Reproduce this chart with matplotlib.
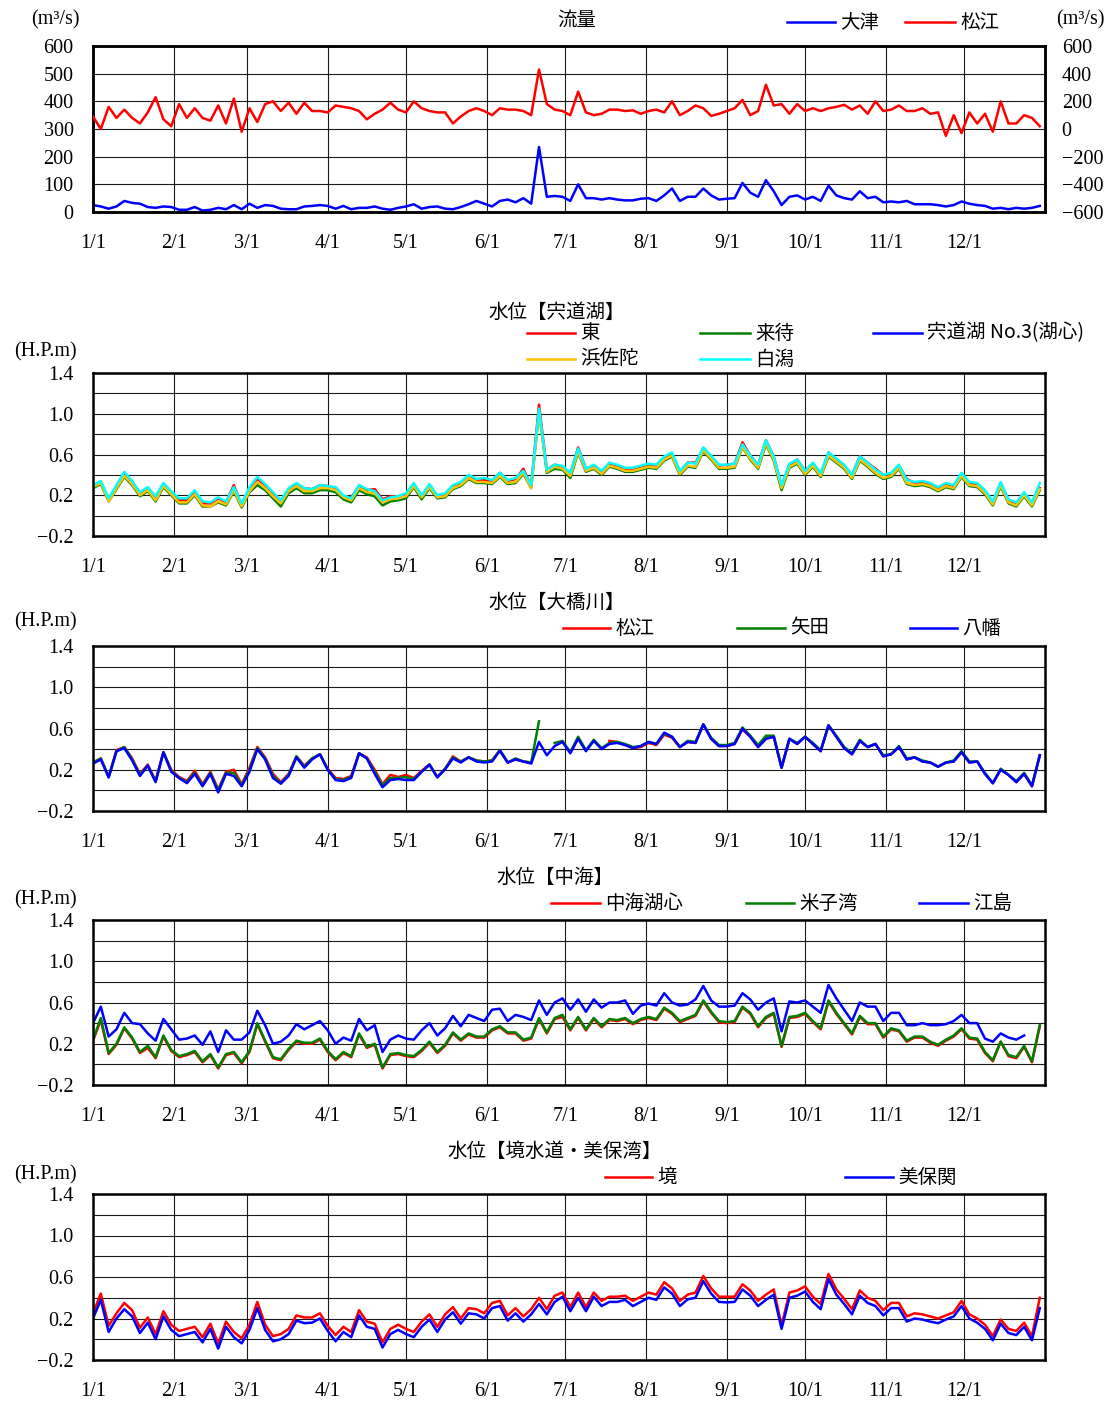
import numpy as np
import matplotlib
matplotlib.use('Agg')
import matplotlib.pyplot as plt
from matplotlib.lines import Line2D

plt.rcParams['font.family'] = ['Liberation Serif', 'Noto Sans CJK JP']
plt.rcParams['axes.unicode_minus'] = True

nan = np.nan
W, H = 1118, 1403

# sample days (every 3 days, day 0 = 1/1)
days = np.arange(0, 364, 3)
month_starts = [0, 31, 59, 90, 120, 151, 181, 212, 243, 273, 304, 334]
month_labels = ['1/1', '2/1', '3/1', '4/1', '5/1', '6/1', '7/1', '8/1', '9/1', '10/1', '11/1', '12/1']

# ---------------- 流量 (m3/s) ----------------
flow_otsu = [25, 20, 12, 20, 40, 33, 30, 18, 15, 20,
             18, 8, 8, 18, 5, 8, 15, 10, 25, 10,
             30, 15, 25, 22, 12, 10, 10, 20, 22, 25,
             22, 12, 22, 10, 15, 15, 20, 12, 8, 15,
             20, 28, 12, 18, 20, 12, 10, 18, 28, 40,
             30, 20, 40, 45, 35, 50, 30, 235, 55, 58,
             55, 40, 100, 50, 50, 45, 50, 45, 42, 42,
             48, 50, 40, 60, 85, 40, 55, 55, 85, 60,
             45, 48, 50, 105, 70, 55, 115, 75, 25, 55,
             60, 45, 55, 40, 95, 60, 50, 45, 75, 50,
             55, 35, 38, 35, 40, 28, 28, 28, 25, 20,
             25, 38, 30, 25, 22, 12, 15, 10, 15, 12, 15, 22]
flow_matsue = [90, 0, 160, 80, 140, 80, 40, 120, 230, 70,
               20, 180, 80, 150, 80, 60, 170, 40, 220, -20,
               150, 50, 180, 200, 130, 190, 110, 190, 130, 130,
               120, 170, 160, 150, 130, 70, 110, 140, 190, 140,
               120, 200, 150, 130, 120, 120, 40, 90, 130, 150,
               130, 100, 150, 140, 140, 130, 100, 430, 180, 140,
               130, 100, 270, 120, 100, 110, 140, 140, 130, 135,
               110, 130, 140, 120, 200, 100, 130, 170, 150, 95,
               110, 130, 150, 210, 100, 130, 320, 170, 180, 110,
               180, 130, 150, 130, 150, 160, 175, 140, 170, 110,
               200, 130, 140, 170, 130, 130, 150, 110, 120, -50,
               100, -30, 120, 40, 110, -20, 200, 40, 40, 100, 80, 20]

# ---------------- 水位【宍道湖】 ----------------
shinji_higashi = [0.29, 0.33, 0.15, 0.28, 0.41, 0.32, 0.21, 0.27, 0.17, 0.31,
                  0.22, 0.15, 0.15, 0.23, 0.12, 0.12, 0.17, 0.13, 0.30, 0.10,
                  0.27, 0.36, 0.30, 0.22, 0.14, 0.26, 0.31, 0.27, 0.26, 0.30,
                  0.29, 0.27, 0.19, 0.18, 0.29, 0.25, 0.26, 0.16, 0.19, 0.19,
                  0.21, 0.31, 0.19, 0.29, 0.19, 0.21, 0.28, 0.31, 0.38, 0.35,
                  0.35, 0.34, 0.42, 0.34, 0.36, 0.46, 0.29, 1.09, 0.45, 0.50,
                  0.48, 0.41, 0.67, 0.46, 0.49, 0.43, 0.50, 0.48, 0.45, 0.46,
                  0.48, 0.50, 0.49, 0.57, 0.61, 0.43, 0.52, 0.52, 0.66, 0.58,
                  0.49, 0.50, 0.51, 0.72, 0.59, 0.50, 0.74, 0.58, 0.29, 0.50,
                  0.55, 0.44, 0.51, 0.41, 0.62, 0.55, 0.49, 0.40, 0.58, 0.52,
                  0.46, 0.40, 0.41, 0.49, 0.36, 0.32, 0.33, 0.31, 0.27, 0.31,
                  0.29, 0.41, 0.31, 0.31, 0.24, 0.12, 0.31, 0.14, 0.12, 0.21, 0.12, 0.27]
shinji_kimachi = [0.27, 0.31, 0.14, 0.26, 0.38, 0.30, 0.19, 0.24, 0.14, 0.28,
                  0.20, 0.12, 0.12, 0.20, 0.09, 0.09, 0.13, 0.10, 0.24, 0.08,
                  0.23, 0.30, 0.25, 0.17, 0.09, 0.22, 0.27, 0.22, 0.22, 0.25,
                  0.25, 0.23, 0.16, 0.13, 0.25, 0.21, 0.19, 0.10, 0.14, 0.15,
                  0.17, 0.28, 0.16, 0.27, 0.17, 0.18, 0.26, 0.29, 0.36, 0.32,
                  0.32, 0.31, 0.38, 0.31, 0.32, 0.41, 0.27, 1.03, 0.42, 0.46,
                  0.45, 0.37, 0.62, 0.43, 0.46, 0.40, 0.48, 0.46, 0.43, 0.43,
                  0.45, 0.47, 0.46, 0.54, 0.58, 0.40, 0.48, 0.47, 0.63, 0.55,
                  0.46, 0.46, 0.47, 0.67, 0.55, 0.46, 0.70, 0.54, 0.25, 0.47,
                  0.51, 0.40, 0.48, 0.38, 0.58, 0.52, 0.46, 0.36, 0.54, 0.48,
                  0.41, 0.36, 0.38, 0.46, 0.31, 0.29, 0.30, 0.28, 0.24, 0.28,
                  0.26, 0.38, 0.29, 0.28, 0.21, 0.10, 0.29, 0.12, 0.09, 0.19, 0.09, 0.25]
shinji_no3 = []   # 宍道湖 No.3(湖心): no data plotted
shinji_hamasada = [0.28, 0.32, 0.14, 0.27, 0.39, 0.31, 0.20, 0.25, 0.15, 0.29,
                   0.21, 0.13, 0.13, 0.21, 0.10, 0.09, 0.14, 0.11, 0.25, 0.09,
                   0.24, 0.33, 0.27, 0.19, 0.12, 0.24, 0.29, 0.24, 0.24, 0.27,
                   0.27, 0.25, 0.18, 0.15, 0.27, 0.23, 0.22, 0.13, 0.16, 0.17,
                   0.19, 0.29, 0.18, 0.28, 0.18, 0.19, 0.27, 0.30, 0.37, 0.33,
                   0.33, 0.32, 0.39, 0.32, 0.33, 0.42, 0.27, 1.02, 0.43, 0.48,
                   0.46, 0.39, 0.63, 0.44, 0.47, 0.41, 0.49, 0.47, 0.44, 0.44,
                   0.46, 0.48, 0.47, 0.55, 0.59, 0.41, 0.49, 0.48, 0.64, 0.56,
                   0.47, 0.47, 0.48, 0.67, 0.56, 0.47, 0.71, 0.55, 0.27, 0.48,
                   0.52, 0.41, 0.49, 0.39, 0.59, 0.53, 0.47, 0.37, 0.55, 0.49,
                   0.42, 0.37, 0.39, 0.47, 0.32, 0.30, 0.31, 0.29, 0.25, 0.29,
                   0.27, 0.39, 0.30, 0.29, 0.22, 0.11, 0.30, 0.13, 0.10, 0.20, 0.10, 0.26]
shinji_shirakata = [0.30, 0.34, 0.17, 0.30, 0.43, 0.34, 0.23, 0.28, 0.19, 0.32,
                    0.24, 0.17, 0.17, 0.25, 0.14, 0.13, 0.18, 0.14, 0.28, 0.12,
                    0.28, 0.38, 0.31, 0.23, 0.15, 0.27, 0.32, 0.27, 0.26, 0.30,
                    0.29, 0.28, 0.20, 0.17, 0.30, 0.26, 0.24, 0.15, 0.18, 0.19,
                    0.22, 0.32, 0.20, 0.31, 0.20, 0.22, 0.30, 0.33, 0.40, 0.36,
                    0.37, 0.35, 0.42, 0.35, 0.37, 0.44, 0.30, 1.05, 0.45, 0.50,
                    0.49, 0.42, 0.66, 0.46, 0.50, 0.44, 0.52, 0.50, 0.47, 0.47,
                    0.49, 0.51, 0.50, 0.58, 0.62, 0.44, 0.52, 0.51, 0.67, 0.59,
                    0.50, 0.50, 0.51, 0.70, 0.59, 0.50, 0.74, 0.58, 0.30, 0.51,
                    0.55, 0.44, 0.52, 0.42, 0.62, 0.56, 0.50, 0.40, 0.58, 0.52,
                    0.45, 0.40, 0.42, 0.50, 0.35, 0.33, 0.34, 0.32, 0.28, 0.32,
                    0.30, 0.42, 0.33, 0.32, 0.25, 0.14, 0.33, 0.16, 0.13, 0.23, 0.13, 0.32]

# ---------------- 水位【大橋川】 ----------------
ohashi_matsue = [0.27, 0.31, 0.13, 0.39, 0.42, 0.31, 0.16, 0.25, 0.09, 0.37,
                 0.20, 0.13, 0.09, 0.19, 0.06, 0.18, 0.01, 0.18, 0.20, 0.06,
                 0.22, 0.42, 0.32, 0.16, 0.08, 0.16, 0.33, 0.24, 0.31, 0.35,
                 0.21, 0.12, 0.11, 0.14, 0.36, 0.32, 0.20, 0.06, 0.15, 0.13,
                 0.15, 0.12, 0.19, 0.25, 0.13, 0.21, 0.33, 0.28, 0.32, 0.29,
                 0.28, 0.29, 0.39, 0.27, 0.30, 0.28, 0.27, nan, nan, nan,
                 nan, nan, nan, nan, nan, nan, 0.48, 0.47, 0.44, 0.41,
                 0.42, 0.46, 0.44, 0.54, 0.51, 0.42, 0.47, 0.46, 0.64, 0.50,
                 0.43, 0.43, 0.45, 0.59, 0.52, 0.42, 0.50, 0.52, 0.22, 0.50,
                 0.45, 0.52, 0.45, 0.38, 0.63, 0.52, 0.41, 0.35, 0.48, 0.42,
                 0.45, 0.33, 0.35, 0.42, 0.30, 0.32, 0.28, 0.27, 0.23, 0.27,
                 0.28, 0.37, 0.27, 0.28, 0.16, 0.07, 0.20, 0.15, 0.08, 0.16, 0.04, 0.34]
ohashi_yada = [0.27, 0.31, 0.13, 0.38, 0.42, 0.30, 0.15, 0.24, 0.09, 0.37,
               0.19, 0.12, 0.08, 0.17, 0.05, 0.17, 0.00, 0.17, 0.17, 0.05,
               0.20, 0.41, 0.31, 0.14, 0.07, 0.15, 0.33, 0.23, 0.31, 0.35,
               0.20, 0.11, 0.10, 0.13, 0.36, 0.31, 0.18, 0.05, 0.12, 0.12,
               0.13, 0.11, 0.18, 0.25, 0.13, 0.21, 0.32, 0.28, 0.32, 0.29,
               0.28, 0.29, 0.39, 0.27, 0.31, 0.28, 0.27, 0.67, nan, 0.46,
               0.48, 0.37, 0.52, 0.39, 0.49, 0.41, 0.46, 0.47, 0.45, 0.42,
               0.43, 0.47, 0.45, 0.55, 0.52, 0.42, 0.48, 0.47, 0.64, 0.51,
               0.44, 0.44, 0.46, 0.61, 0.53, 0.44, 0.53, 0.53, 0.22, 0.50,
               0.46, 0.52, 0.46, 0.39, 0.63, 0.53, 0.42, 0.36, 0.49, 0.42,
               0.45, 0.34, 0.35, 0.43, 0.31, 0.32, 0.29, 0.27, 0.23, 0.27,
               0.29, 0.38, 0.28, 0.28, 0.17, 0.07, 0.21, 0.15, 0.09, 0.17, 0.05, 0.34]
ohashi_yawata = [0.26, 0.30, 0.125, 0.38, 0.41, 0.29, 0.14, 0.24, 0.08, 0.37,
                 0.18, 0.12, 0.07, 0.16, 0.04, 0.16, -0.02, 0.16, 0.14, 0.04,
                 0.18, 0.40, 0.30, 0.12, 0.065, 0.14, 0.32, 0.22, 0.30, 0.35,
                 0.20, 0.10, 0.09, 0.12, 0.36, 0.31, 0.16, 0.03, 0.10, 0.11,
                 0.10, 0.10, 0.18, 0.25, 0.125, 0.205, 0.31, 0.27, 0.32, 0.28,
                 0.27, 0.28, 0.385, 0.27, 0.30, 0.28, 0.26, 0.47, 0.34, 0.43,
                 0.47, 0.36, 0.50, 0.38, 0.48, 0.40, 0.45, 0.46, 0.44, 0.41,
                 0.43, 0.47, 0.45, 0.56, 0.52, 0.42, 0.47, 0.46, 0.64, 0.50,
                 0.43, 0.43, 0.45, 0.60, 0.52, 0.42, 0.50, 0.52, 0.22, 0.50,
                 0.45, 0.52, 0.45, 0.38, 0.63, 0.52, 0.41, 0.35, 0.48, 0.42,
                 0.45, 0.33, 0.35, 0.42, 0.30, 0.32, 0.28, 0.27, 0.23, 0.27,
                 0.28, 0.37, 0.27, 0.28, 0.16, 0.07, 0.20, 0.15, 0.08, 0.16, 0.04, 0.34]

# ---------------- 水位【中海】 ----------------
naka_center = [0.23, 0.43, 0.10, 0.19, 0.35, 0.25, 0.11, 0.16, 0.06, 0.27,
               0.13, 0.07, 0.09, 0.12, 0.02, 0.09, -0.04, 0.09, 0.11, 0.01,
               0.12, 0.39, 0.22, 0.06, 0.04, 0.14, 0.22, 0.20, 0.20, 0.24,
               0.12, 0.04, 0.11, 0.07, 0.29, 0.16, 0.19, -0.04, 0.09, 0.10,
               0.08, 0.07, 0.13, 0.21, 0.11, 0.18, 0.30, 0.23, 0.29, 0.26,
               0.26, 0.33, 0.36, 0.30, 0.30, 0.23, 0.25, 0.44, 0.30, 0.44,
               0.46, 0.33, 0.45, 0.33, 0.44, 0.36, 0.43, 0.42, 0.44, 0.39,
               0.43, 0.45, 0.43, 0.54, 0.49, 0.41, 0.44, 0.47, 0.61, 0.50,
               0.41, 0.40, 0.41, 0.55, 0.49, 0.36, 0.45, 0.49, 0.17, 0.45,
               0.46, 0.49, 0.41, 0.34, 0.61, 0.49, 0.39, 0.29, 0.46, 0.39,
               0.39, 0.26, 0.34, 0.32, 0.22, 0.26, 0.26, 0.21, 0.18, 0.23,
               0.27, 0.34, 0.25, 0.24, 0.11, 0.03, 0.22, 0.08, 0.06, 0.17, 0.02, 0.37]
naka_yonago = [0.24, 0.45, 0.11, 0.20, 0.36, 0.26, 0.12, 0.18, 0.07, 0.28,
               0.14, 0.08, 0.10, 0.13, 0.03, 0.10, -0.03, 0.10, 0.12, 0.02,
               0.13, 0.40, 0.23, 0.07, 0.05, 0.15, 0.23, 0.21, 0.21, 0.25,
               0.13, 0.05, 0.12, 0.08, 0.30, 0.17, 0.20, -0.03, 0.10, 0.11,
               0.09, 0.08, 0.14, 0.22, 0.12, 0.19, 0.31, 0.24, 0.30, 0.27,
               0.27, 0.34, 0.37, 0.31, 0.31, 0.24, 0.26, 0.45, 0.31, 0.45,
               0.48, 0.34, 0.46, 0.34, 0.45, 0.37, 0.44, 0.43, 0.45, 0.40,
               0.44, 0.46, 0.44, 0.55, 0.50, 0.42, 0.45, 0.48, 0.62, 0.51,
               0.42, 0.41, 0.42, 0.56, 0.50, 0.37, 0.46, 0.50, 0.18, 0.46,
               0.47, 0.50, 0.42, 0.35, 0.62, 0.50, 0.40, 0.30, 0.47, 0.40,
               0.40, 0.27, 0.35, 0.33, 0.23, 0.27, 0.27, 0.22, 0.19, 0.24,
               0.28, 0.35, 0.26, 0.25, 0.12, 0.04, 0.22, 0.09, 0.07, 0.18, 0.03, 0.38]
naka_eshima = [0.40, 0.56, 0.27, 0.34, 0.50, 0.40, 0.39, 0.30, 0.23, 0.44,
               0.34, 0.24, 0.25, 0.28, 0.19, 0.32, 0.12, 0.33, 0.24, 0.24,
               0.31, 0.52, 0.38, 0.20, 0.22, 0.28, 0.39, 0.34, 0.38, 0.42,
               0.33, 0.20, 0.26, 0.23, 0.44, 0.33, 0.38, 0.12, 0.24, 0.28,
               0.25, 0.24, 0.33, 0.40, 0.28, 0.35, 0.47, 0.37, 0.48, 0.45,
               0.42, 0.53, 0.54, 0.42, 0.48, 0.46, 0.43, 0.62, 0.48, 0.60,
               0.64, 0.53, 0.63, 0.51, 0.63, 0.55, 0.60, 0.60, 0.62, 0.49,
               0.57, 0.59, 0.57, 0.69, 0.60, 0.57, 0.58, 0.63, 0.76, 0.62,
               0.56, 0.56, 0.57, 0.69, 0.63, 0.53, 0.60, 0.64, 0.32, 0.61,
               0.60, 0.62, 0.56, 0.50, 0.77, 0.64, 0.53, 0.42, 0.60, 0.56,
               0.56, 0.42, 0.50, 0.50, 0.38, 0.38, 0.40, 0.38, 0.38, 0.39,
               0.42, 0.48, 0.40, 0.40, 0.25, 0.22, 0.30, 0.26, 0.24, 0.28, nan, nan]

# ---------------- 水位【境水道・美保湾】 ----------------
sakai = [0.25, 0.44, 0.13, 0.25, 0.35, 0.28, 0.11, 0.21, 0.05, 0.27,
         0.14, 0.08, 0.10, 0.12, 0.02, 0.15, -0.04, 0.17, 0.07, 0.01,
         0.14, 0.36, 0.14, 0.03, 0.05, 0.10, 0.23, 0.21, 0.21, 0.25,
         0.13, 0.04, 0.12, 0.07, 0.28, 0.17, 0.15, -0.03, 0.10, 0.14,
         0.10, 0.07, 0.17, 0.24, 0.12, 0.24, 0.31, 0.20, 0.30, 0.29,
         0.25, 0.35, 0.37, 0.23, 0.30, 0.22, 0.29, 0.40, 0.29, 0.42,
         0.45, 0.31, 0.45, 0.31, 0.45, 0.37, 0.41, 0.41, 0.42, 0.37,
         0.41, 0.45, 0.43, 0.55, 0.49, 0.37, 0.43, 0.45, 0.61, 0.49,
         0.41, 0.41, 0.41, 0.53, 0.47, 0.37, 0.43, 0.48, 0.13, 0.45,
         0.47, 0.51, 0.41, 0.34, 0.63, 0.48, 0.39, 0.29, 0.47, 0.40,
         0.37, 0.28, 0.35, 0.35, 0.22, 0.25, 0.24, 0.22, 0.20, 0.23,
         0.26, 0.37, 0.24, 0.20, 0.14, 0.03, 0.19, 0.10, 0.08, 0.16, 0.03, 0.40]
mihonoseki = [0.20, 0.38, 0.07, 0.20, 0.29, 0.22, 0.06, 0.16, 0.00, 0.22,
              0.09, 0.03, 0.05, 0.07, -0.03, 0.10, -0.09, 0.12, 0.02, -0.04,
              0.09, 0.30, 0.09, -0.02, 0.00, 0.05, 0.18, 0.155, 0.16, 0.20,
              0.08, -0.02, 0.07, 0.02, 0.23, 0.12, 0.10, -0.08, 0.05, 0.09,
              0.05, 0.02, 0.12, 0.19, 0.07, 0.19, 0.26, 0.15, 0.25, 0.24,
              0.20, 0.30, 0.32, 0.18, 0.25, 0.17, 0.24, 0.34, 0.24, 0.36,
              0.41, 0.27, 0.40, 0.27, 0.41, 0.32, 0.36, 0.36, 0.38, 0.32,
              0.36, 0.40, 0.38, 0.50, 0.44, 0.32, 0.385, 0.40, 0.56, 0.44,
              0.36, 0.355, 0.36, 0.48, 0.42, 0.32, 0.38, 0.43, 0.10, 0.40,
              0.42, 0.46, 0.36, 0.29, 0.58, 0.43, 0.34, 0.24, 0.42, 0.35,
              0.32, 0.23, 0.30, 0.30, 0.17, 0.20, 0.19, 0.17, 0.155, 0.19,
              0.22, 0.32, 0.20, 0.16, 0.10, -0.01, 0.15, 0.06, 0.04, 0.12, -0.01, 0.30]

# ---------------- colours ----------------
RED, GREEN, BLUE, GOLD, CYAN = '#ff0000', '#008000', '#0000ff', '#ffc000', '#00ffff'
LW = 1.8
FS = 14.5

fig = plt.figure(figsize=(W / 100, H / 100), dpi=100)


def px_axes(top, bottom, left=93, right=1045):
    return fig.add_axes([left / W, 1 - bottom / H, (right - left) / W, (bottom - top) / H])


def ftext(x, y, s, ha='center', size=FS, **kw):
    fig.text(x / W, 1 - y / H, s, ha=ha, va='center', fontsize=size, **kw)


def legend_entry(x0, x1, y, color, label):
    fig.add_artist(Line2D([x0 / W, x1 / W], [1 - y / H, 1 - y / H],
                          transform=fig.transFigure, color=color, lw=LW))
    ftext(x1 + 5, y, label, ha='left', size=14, family=['Noto Sans CJK JP'])


def style(ax, ylim, major, minor):
    ax.set_xlim(0, 365)
    ax.set_ylim(*ylim)
    ax.set_xticks(month_starts)
    ax.set_xticklabels(month_labels)
    ax.set_yticks(major)
    ax.set_yticks(minor, minor=True)
    ax.grid(True, which='both', axis='both', color='#1a1a1a', lw=0.8)
    ax.set_axisbelow(True)
    ax.tick_params(axis='both', which='both', length=0, labelsize=FS)
    ax.tick_params(axis='x', pad=16)
    ax.tick_params(axis='y', pad=14)
    for sp in ax.spines.values():
        sp.set_linewidth(1.8)
        sp.set_zorder(5)


lvl_major = [-0.2, 0.2, 0.6, 1.0, 1.4]
lvl_minor = [0.0, 0.4, 0.8, 1.2]
lvl_labels = ['−0.2', '0.2', '0.6', '1.0', '1.4']

# ---- panel 1: 流量 ----
ax1 = px_axes(46, 212)
style(ax1, (0, 600), list(range(0, 601, 100)), [])
ax1.plot(days, flow_otsu, color=BLUE, lw=LW, zorder=3)
ax1r = ax1.twinx()
ax1r.set_ylim(-600, 600)
ax1r.set_yticks(list(range(-600, 601, 200)))
ax1r.tick_params(axis='y', length=0, labelsize=FS, pad=12)
for sp in ax1r.spines.values():
    sp.set_linewidth(1.8)
ax1r.plot(days, flow_matsue, color=RED, lw=LW, zorder=3)
ftext(55, 20, '(m³/s)')
ftext(1080, 20, '(m³/s)')
ftext(577, 20, '流量', size=14, family=['Noto Sans CJK JP'])
legend_entry(787, 835, 22, BLUE, '大津')
legend_entry(905, 955, 22, RED, '松江')

# ---- panel 2: 宍道湖 ----
ax2 = px_axes(373, 536)
style(ax2, (-0.2, 1.4), lvl_major, lvl_minor)
ax2.set_yticklabels(lvl_labels)
ax2.plot(days, shinji_kimachi, color=GREEN, lw=LW, zorder=3)
ax2.plot(days, shinji_higashi, color=RED, lw=LW, zorder=3)
ax2.plot(days[:len(shinji_no3)], shinji_no3, color=BLUE, lw=LW, zorder=3)
ax2.plot(days, shinji_hamasada, color=GOLD, lw=LW, zorder=3)
ax2.plot(days, shinji_shirakata, color=CYAN, lw=LW, zorder=3)
ftext(557, 312, '水位【宍道湖】', size=14, family=['Noto Sans CJK JP'])
ftext(45, 352, '(H.P.m)')
legend_entry(527, 575, 333, RED, '東')
legend_entry(700, 750, 333, GREEN, '来待')
legend_entry(873, 922, 333, BLUE, '宍道湖 No.3(湖心)')
legend_entry(527, 575, 359, GOLD, '浜佐陀')
legend_entry(700, 750, 359, CYAN, '白潟')

# ---- panel 3: 大橋川 ----
ax3 = px_axes(646, 811)
style(ax3, (-0.2, 1.4), lvl_major, lvl_minor)
ax3.set_yticklabels(lvl_labels)
ax3.plot(days, ohashi_matsue, color=RED, lw=LW, zorder=3)
ax3.plot(days, ohashi_yada, color=GREEN, lw=LW, zorder=3)
ax3.plot(days, ohashi_yawata, color=BLUE, lw=LW, zorder=3)
ftext(557, 602, '水位【大橋川】', size=14, family=['Noto Sans CJK JP'])
ftext(45, 622, '(H.P.m)')
legend_entry(563, 610, 628, RED, '松江')
legend_entry(737, 785, 628, GREEN, '矢田')
legend_entry(910, 957, 628, BLUE, '八幡')

# ---- panel 4: 中海 ----
ax4 = px_axes(920, 1085)
style(ax4, (-0.2, 1.4), lvl_major, lvl_minor)
ax4.set_yticklabels(lvl_labels)
ax4.plot(days, naka_center, color=RED, lw=LW, zorder=3)
ax4.plot(days, naka_yonago, color=GREEN, lw=LW, zorder=3)
ax4.plot(days, naka_eshima, color=BLUE, lw=LW, zorder=3)
ftext(555, 877, '水位【中海】', size=14, family=['Noto Sans CJK JP'])
ftext(45, 900, '(H.P.m)')
legend_entry(551, 600, 903, RED, '中海湖心')
legend_entry(746, 794, 903, GREEN, '米子湾')
legend_entry(919, 968, 903, BLUE, '江島')

# ---- panel 5: 境水道・美保湾 ----
ax5 = px_axes(1194, 1360)
style(ax5, (-0.2, 1.4), lvl_major, lvl_minor)
ax5.set_yticklabels(lvl_labels)
ax5.plot(days, sakai, color=RED, lw=LW, zorder=3)
ax5.plot(days, mihonoseki, color=BLUE, lw=LW, zorder=3)
ftext(555, 1151, '水位【境水道・美保湾】', size=14, family=['Noto Sans CJK JP'])
ftext(45, 1175, '(H.P.m)')
legend_entry(605, 652, 1177, RED, '境')
legend_entry(845, 893, 1177, BLUE, '美保関')

fig.savefig('out.png', dpi=100)
